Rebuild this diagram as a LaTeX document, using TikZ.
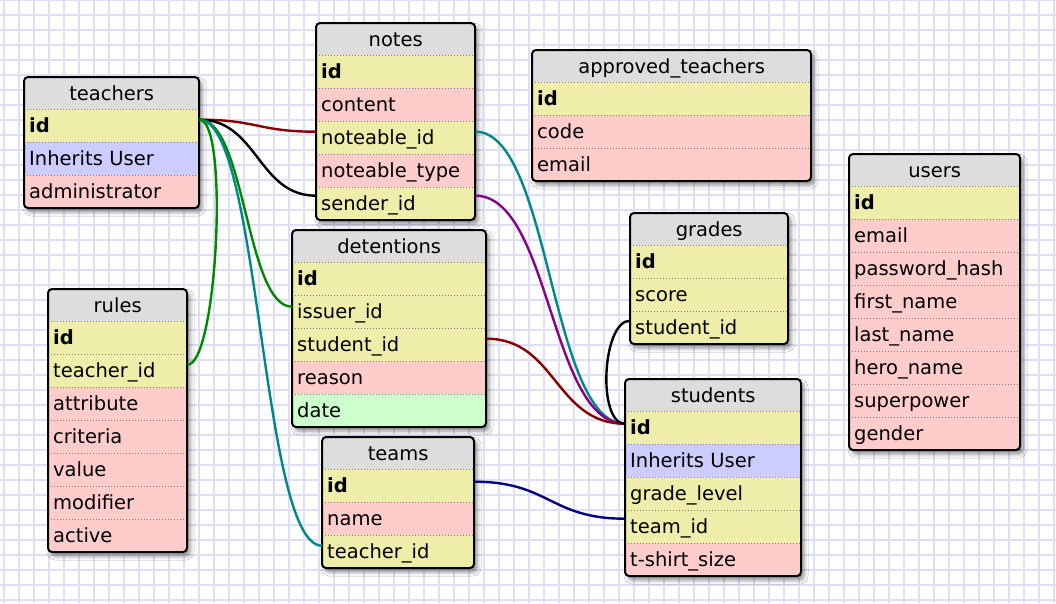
\documentclass[tikz,border=0pt]{standalone}
\usepackage{fontspec}
\setmainfont{DejaVu Sans}
\usetikzlibrary{calc, shadows.blur}

\definecolor{hdgray}{RGB}{221,221,221}
\definecolor{keyyel}{RGB}{238,238,170}
\definecolor{txtpink}{RGB}{255,204,204}
\definecolor{inhblue}{RGB}{204,204,255}
\definecolor{dategreen}{RGB}{204,255,204}
\definecolor{gridlav}{RGB}{222,222,247}
\definecolor{lred}{RGB}{136,0,0}
\definecolor{lgreen}{RGB}{0,136,0}
\definecolor{lteal}{RGB}{0,136,136}
\definecolor{lpurple}{RGB}{136,0,136}
\definecolor{lnavy}{RGB}{0,0,136}

\begin{document}
\begin{tikzpicture}[x=1pt, y=-1pt]
	\tikzstyle{every node} = [font=\fontsize{19.5}{22}\selectfont, inner sep=0pt, text height=15pt, text depth=1pt]
	\tikzstyle{tblhead} = [anchor=north west, minimum height=32pt]
	\tikzstyle{tblrow} = [anchor=north west, minimum height=33pt, inner xsep=5pt, align=left]
	\tikzstyle{tblsep} = [black!50, dotted, line width=1pt]
	\tikzstyle{tblframe} = [draw=black, line width=2pt, rounded corners=4pt]
	\tikzstyle{tblback} = [fill=hdgray, rounded corners=4pt, blur shadow={shadow xshift=3pt, shadow yshift=-4pt, shadow blur radius=4pt, shadow opacity=45}]
	\tikzstyle{gridline} = [gridlav, line width=2pt]
	\tikzstyle{link} = [line width=2.4pt]

	\useasboundingbox (0,0) rectangle (1056,603);
	\fill[white] (0,0) rectangle (1056,603);
	\foreach \gx in {4,19,...,1054} \draw[gridline] (\gx,0) -- (\gx,603);
	\foreach \gy in {0,15,...,600} \draw[gridline] (0,\gy) -- (1056,\gy);

	% tables: name / x / y / width / rows / title / fields
	\foreach \tbl/\tx/\ty/\tw/\nrows/\ttl/\rows in {
		teachers/24/77/175/3/teachers/{keyyel/\textbf{id}, inhblue/Inherits User, txtpink/administrator},
		notes/316/23/159/5/notes/{keyyel/\textbf{id}, txtpink/content, keyyel/noteable\_id, txtpink/noteable\_type, keyyel/sender\_id},
		approved/532/50/279/3/approved\_teachers/{keyyel/\textbf{id}, txtpink/code, txtpink/email},
		users/849/154/171/8/users/{keyyel/\textbf{id}, txtpink/email, txtpink/password\_hash, txtpink/first\_name, txtpink/last\_name, txtpink/hero\_name, txtpink/superpower, txtpink/gender},
		grades/630/213/158/3/grades/{keyyel/\textbf{id}, keyyel/score, keyyel/student\_id},
		students/625/379/176/5/students/{keyyel/\textbf{id}, inhblue/Inherits User, keyyel/grade\_level, keyyel/team\_id, txtpink/t-shirt\_size},
		detentions/292/230/194/5/detentions/{keyyel/\textbf{id}, keyyel/issuer\_id, keyyel/student\_id, txtpink/reason, dategreen/date},
		rules/48/289/139/7/rules/{keyyel/\textbf{id}, keyyel/teacher\_id, txtpink/attribute, txtpink/criteria, txtpink/value, txtpink/modifier, txtpink/active},
		teams/322/437/152/3/teams/{keyyel/\textbf{id}, txtpink/name, keyyel/teacher\_id}%
	}{
		\pgfmathsetmacro\tbot{\ty+32+33*\nrows}
		\pgfmathsetmacro\txw{\tw-10}
		\fill[tblback] (\tx,\ty) rectangle ({\tx+\tw},\tbot);
		\node[tblhead, minimum width=\tw] (\tbl) at (\tx,\ty) {\ttl};
		\begin{scope}
			\clip[rounded corners=4pt] (\tx,\ty) rectangle ({\tx+\tw},\tbot);
			\foreach \rc/\fld [count=\i] in \rows
				\node[tblrow, fill=\rc, text width=\txw pt] (\tbl-\i) at (\tx,{\ty+32+33*(\i-1)}) {\fld};
		\end{scope}
		\foreach \i in {1,...,\nrows} \draw[tblsep] (\tbl-\i.north west) -- (\tbl-\i.north east);
		\draw[tblframe] (\tx,\ty) rectangle ({\tx+\tw},\tbot);
	}

	% relations
	\draw[link, lred] ([yshift=6pt]teachers-1.east) .. controls +(58,0) and +(-58,0) .. ([yshift=6pt]notes-3.west);
	\draw[link, black] ([yshift=6pt]teachers-1.east) .. controls +(58,0) and +(-58,0) .. ([yshift=8pt]notes-5.west);
	\draw[link, lgreen] ([yshift=6pt]teachers-1.east) .. controls +(46,0) and +(-46,0) .. ([yshift=5pt]detentions-2.west);
	\draw[link, lteal] ([yshift=6pt]teachers-1.east) .. controls +(61,0) and +(-61,0) .. ([yshift=6pt]teams-3.west);
	\draw[link, lgreen] ([yshift=6pt]teachers-1.east) .. controls +(30,0) and +(30,0) .. ([yshift=6pt]rules-2.east);
	\draw[link, lteal] ([yshift=6pt]notes-3.east) .. controls +(75,0) and +(-75,0) .. ([yshift=4pt]students-1.west);
	\draw[link, lpurple] ([yshift=8pt]notes-5.east) .. controls +(75,0) and +(-75,0) .. ([yshift=4pt]students-1.west);
	\draw[link, lred] ([yshift=6pt]detentions-3.east) .. controls +(70,0) and +(-70,0) .. ([yshift=4pt]students-1.west);
	\draw[link, black] ([yshift=7pt]grades-3.west) .. controls +(-28,0) and +(-28,0) .. ([yshift=4pt]students-1.west);
	\draw[link, lnavy] ([yshift=4pt]teams-1.east) .. controls +(75,0) and +(-75,0) .. ([yshift=8pt]students-4.west);
\end{tikzpicture}
\end{document}
